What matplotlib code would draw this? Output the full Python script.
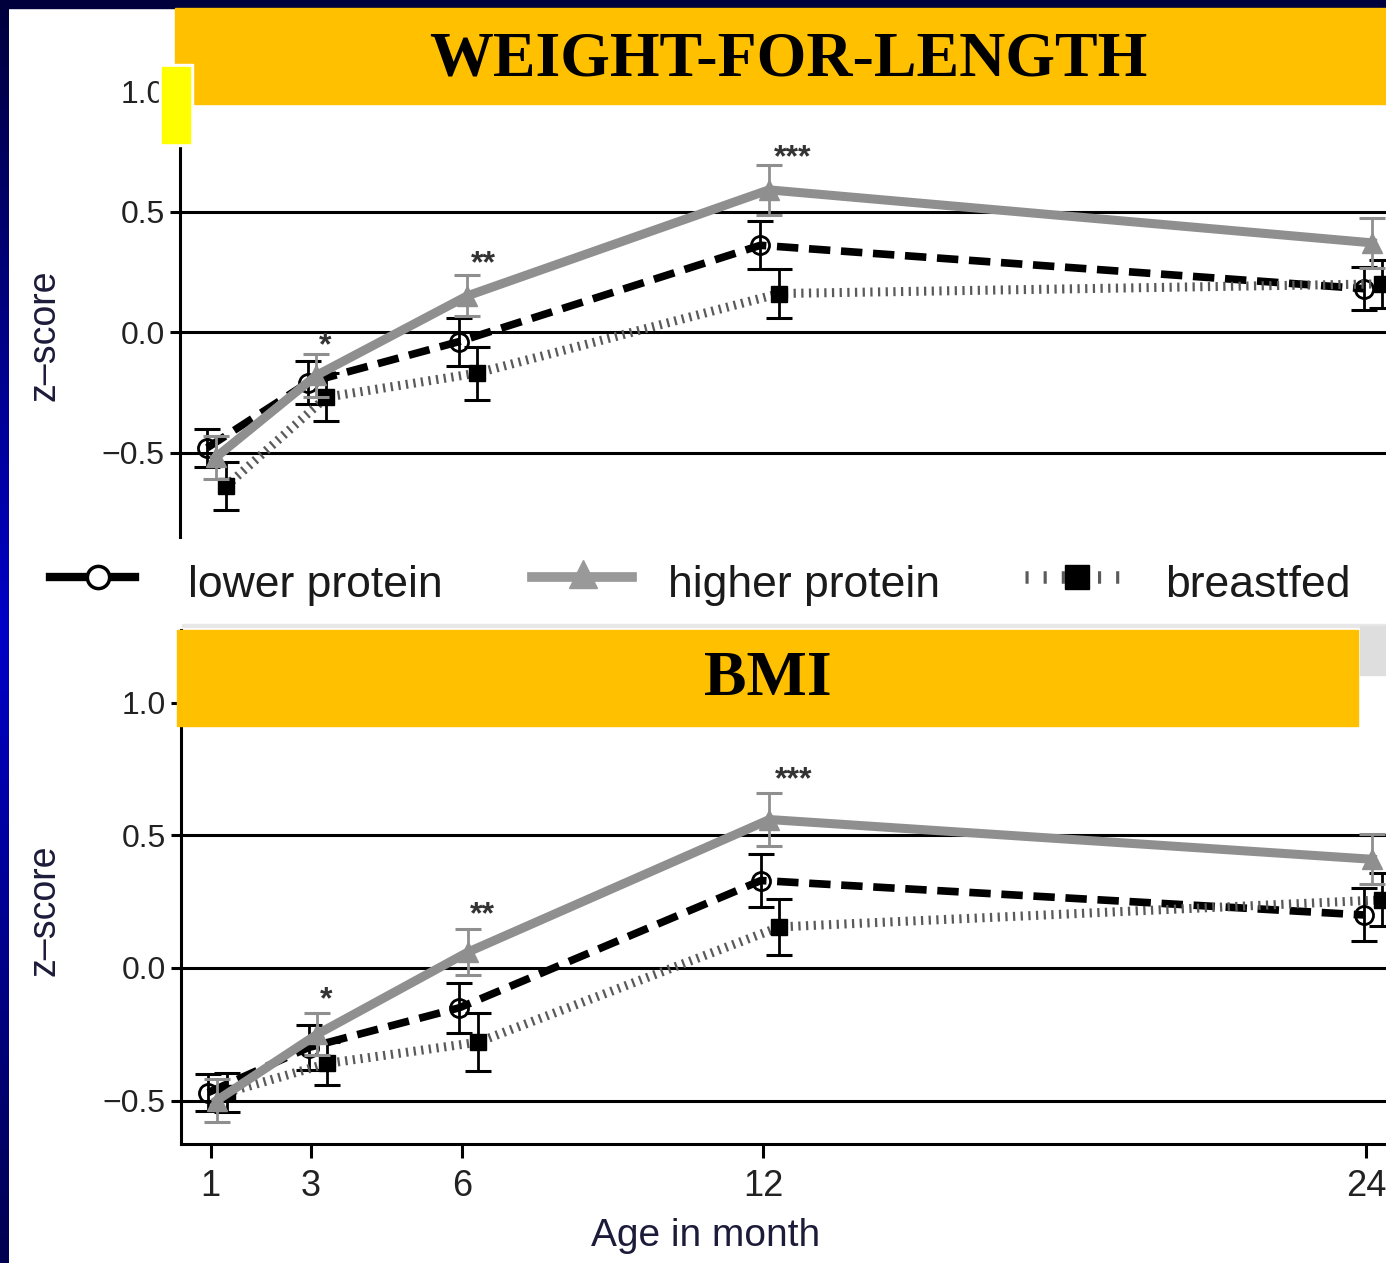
import numpy as np
import matplotlib.pyplot as plt
from matplotlib.patches import Rectangle
from matplotlib.lines import Line2D
from matplotlib.colors import LinearSegmentedColormap
from matplotlib import font_manager

plt.rcParams['font.family'] = 'Liberation Sans'

months = [1, 3, 6, 12, 24]
groups = ['lower protein', 'higher protein', 'breastfed']

# weight-for-length z-score (mean, SE)
wfl_lower = [-0.48, -0.21, -0.04, 0.36, 0.18]
wfl_lower_err = [0.08, 0.09, 0.10, 0.10, 0.09]
wfl_higher = [-0.52, -0.18, 0.15, 0.59, 0.37]
wfl_higher_err = [0.09, 0.09, 0.085, 0.105, 0.105]
wfl_breast = [-0.64, -0.27, -0.17, 0.16, 0.20]
wfl_breast_err = [0.10, 0.10, 0.11, 0.10, 0.10]

# BMI z-score (mean, SE)
bmi_lower = [-0.47, -0.30, -0.15, 0.33, 0.20]
bmi_lower_err = [0.07, 0.085, 0.095, 0.10, 0.10]
bmi_higher = [-0.50, -0.25, 0.06, 0.56, 0.41]
bmi_higher_err = [0.08, 0.08, 0.088, 0.10, 0.095]
bmi_breast = [-0.47, -0.36, -0.28, 0.155, 0.257]
bmi_breast_err = [0.075, 0.08, 0.11, 0.107, 0.10]

# significance marks
stars = ['*', '**', '***']
wfl_star_x = [3.3, 6.45, 12.6]
wfl_star_y = [-0.06, 0.28, 0.72]
bmi_star_x = [3.3, 6.4, 12.6]
bmi_star_y = [-0.12, 0.2, 0.71]

W, H = 1386, 1263
fig = plt.figure(figsize=(W / 100, H / 100), dpi=100)
fig.patch.set_facecolor('white')

GRAY = '#8f8f8f'
DOT = '#5a5a5a'
dodge = {'lower': -0.05, 'higher': 0.12, 'breast': 0.32}


def px_box(left, top, right, bottom):
    return [left / W, 1 - bottom / H, (right - left) / W, (bottom - top) / H]


def draw_panel(ax, lower, lower_err, higher, higher_err, breast, breast_err, sx, sy):
    m = np.array(months, dtype=float)
    for y in [-0.5, 0.0, 0.5]:
        ax.axhline(y, color='black', lw=2.2, zorder=1)

    # lower protein
    ax.plot(m + dodge['lower'], lower, color='black', lw=5.5, linestyle=(0, (2.8, 1.4)),
            marker='o', ms=13, mfc='none', mec='black', mew=2, zorder=3)
    ax.errorbar(m + dodge['lower'], lower, yerr=lower_err, fmt='none', ecolor='black',
                elinewidth=2, capsize=9.5, capthick=2.2, zorder=3)

    # breastfed
    ax.plot(m + dodge['breast'], breast, color=DOT, lw=6.5, linestyle=(0, (0.25, 0.6)), zorder=4)
    ax.plot(m + dodge['breast'], breast, ls='none', marker='s', ms=11, color='black', zorder=4)
    ax.errorbar(m + dodge['breast'], breast, yerr=breast_err, fmt='none', ecolor='black',
                elinewidth=2, capsize=9.5, capthick=2.2, zorder=4)

    # higher protein
    ax.plot(m + dodge['higher'], higher, color=GRAY, lw=6.5, marker='^', ms=15, zorder=5)
    ax.errorbar(m + dodge['higher'], higher, yerr=higher_err, fmt='none', ecolor=GRAY,
                elinewidth=2, capsize=9.5, capthick=2.2, zorder=5)

    for s, x, y in zip(stars, sx, sy):
        ax.text(x, y, s, ha='center', va='center', fontsize=23, fontweight='bold',
                color='#333333', zorder=6)

    ax.set_xlim(0.41, 24.39)
    ax.set_yticks([-0.5, 0.0, 0.5, 1.0])
    ax.set_yticklabels(['\u22120.5', '0.0', '0.5', '1.0'])
    ax.tick_params(axis='y', labelsize=23, labelcolor='#222222', length=7, width=2.2, pad=4)
    for side in ['top', 'right']:
        ax.spines[side].set_visible(False)
    ax.spines['left'].set_linewidth(2.2)


# top panel: weight-for-length
ax1 = fig.add_axes(px_box(180, 10, W, 537))
draw_panel(ax1, wfl_lower, wfl_lower_err, wfl_higher, wfl_higher_err,
           wfl_breast, wfl_breast_err, wfl_star_x, wfl_star_y)
ax1.set_ylim(-0.85, 1.336)
ax1.spines['bottom'].set_visible(False)
ax1.set_xticks([])

# bottom panel: BMI
ax2 = fig.add_axes(px_box(181, 630, W, 1144))
draw_panel(ax2, bmi_lower, bmi_lower_err, bmi_higher, bmi_higher_err,
           bmi_breast, bmi_breast_err, bmi_star_x, bmi_star_y)
ax2.set_ylim(-0.664, 1.275)
ax2.spines['bottom'].set_linewidth(2.2)
ax2.set_xticks(months)
ax2.tick_params(axis='x', labelsize=26, labelcolor='#222222', length=10, width=2.2, pad=8)

# overlay in pixel coordinates for banners, legend and labels
ov = fig.add_axes([0, 0, 1, 1], zorder=10)
ov.patch.set_alpha(0)
ov.axis('off')

grad = LinearSegmentedColormap.from_list('slide', ['#00003c', '#0000c8', '#000050'])
ov.imshow(np.linspace(0, 1, 256).reshape(-1, 1), cmap=grad, aspect='auto',
          extent=(0, 9, H, 0), origin='upper', zorder=1)
ov.add_patch(Rectangle((0, 0), W, 8, color='#00003c', zorder=1))

# banners
ov.add_patch(Rectangle((175, 8), W - 175, 96, color='#ffc000', zorder=2))
ov.add_patch(Rectangle((159, 64), 34, 82, color='white', zorder=2))
ov.add_patch(Rectangle((162, 67), 28, 76, color='#ffff00', zorder=3))
ov.add_patch(Rectangle((182, 624), W - 182, 3, color='#e8e8e8', zorder=2))
ov.add_patch(Rectangle((1360, 626), W - 1360, 49, color='#dedede', zorder=2))
ov.add_patch(Rectangle((177, 630), 1181, 96, color='#ffc000', zorder=3))

ov.text(788, 60, 'WEIGHT-FOR-LENGTH', ha='center', va='center', fontsize=46,
        fontweight='bold', family='Liberation Serif', color='black', zorder=4)
ov.text(768, 680, 'BMI', ha='center', va='center', fontsize=46,
        fontweight='bold', family='Liberation Serif', color='black', zorder=4)

# axis labels
ov.text(45, 335, 'z\u2013score', rotation=90, ha='center', va='center', fontsize=27,
        color='#1c1c3a', zorder=4)
ov.text(45, 910, 'z\u2013score', rotation=90, ha='center', va='center', fontsize=27,
        color='#1c1c3a', zorder=4)
ov.text(706, 1236, 'Age in month', ha='center', va='center', fontsize=28,
        color='#1c1c3a', zorder=4)

# legend
names = {f.name for f in font_manager.fontManager.ttflist}
if 'Liberation Sans Narrow' in names:
    leg_font, leg_size = 'Liberation Sans Narrow', 38
else:
    leg_font, leg_size = 'Liberation Sans', 32

ly = 577
ov.add_line(Line2D([50, 135], [ly, ly], color='black', lw=6, zorder=4))
ov.add_line(Line2D([98], [ly], ls='none', marker='o', ms=16, mfc='white', mec='black',
                   mew=2.5, zorder=5))
ov.add_line(Line2D([532, 632], [ly, ly], color='#999999', lw=7, zorder=4))
ov.add_line(Line2D([583], [ly - 3], ls='none', marker='^', ms=20, color='#999999', zorder=5))
ov.add_line(Line2D([1025, 1128], [ly, ly], color=DOT, lw=9, linestyle=(0, (0.25, 1.2)), zorder=4))
ov.add_line(Line2D([1077], [ly], ls='none', marker='s', ms=17, color='black', zorder=5))

for x, lab in zip([188, 668, 1165], groups):
    ov.text(x, 597, lab, ha='left', va='baseline', fontsize=leg_size, family=leg_font,
            color='#1a1a1a', zorder=4)

ov.set_xlim(0, W)
ov.set_ylim(H, 0)

plt.savefig('out.png', dpi=100)
